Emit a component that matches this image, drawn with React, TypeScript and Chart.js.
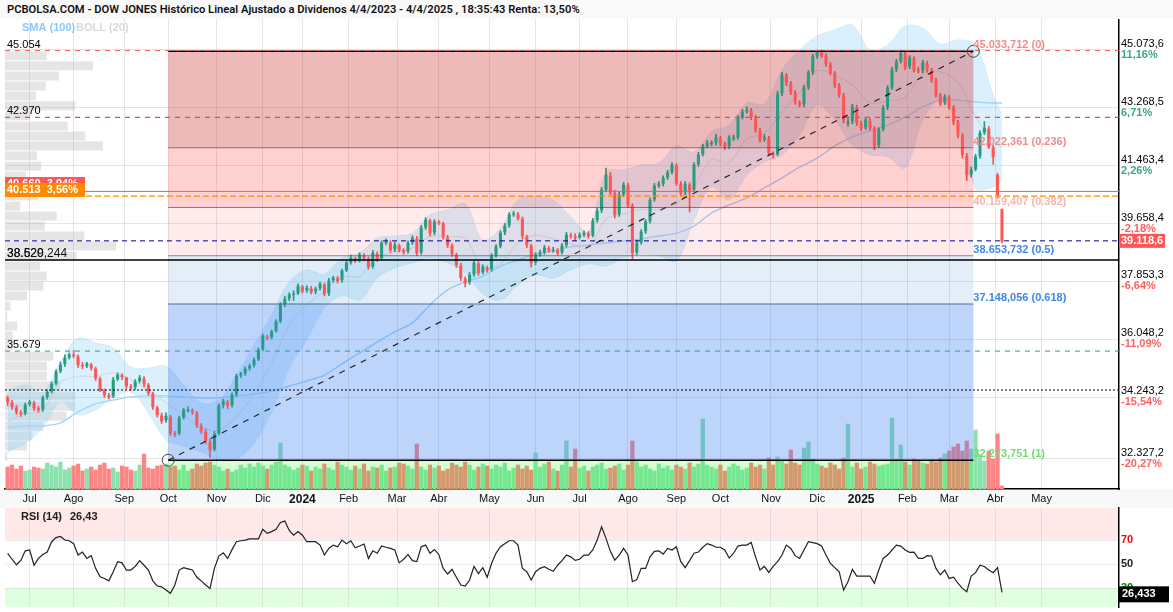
import { useEffect, useRef } from 'react'
import Chart from 'chart.js/auto'

const monthDays = [0, 20, 43, 63, 85, 106, 124, 145, 167, 186, 209, 230, 250, 272, 294, 314, 337, 358, 378, 399, 418, 439, 460]
const monthLabels = ['Jul', 'Ago', 'Sep', 'Oct', 'Nov', 'Dic', '2024', 'Feb', 'Mar', 'Abr', 'May', 'Jun', 'Jul', 'Ago', 'Sep', 'Oct', 'Nov', 'Dic', '2025', 'Feb', 'Mar', 'Abr', 'May']

const closes = [
  34090, 33940, 33780, 33720, 34000, 34090, 33900, 33840, 34220, 34400,
  34650, 35030, 35250, 35460, 35560, 35530, 35250, 35210, 35280, 35150,
  34840, 34470, 34310, 34250, 34780, 34930, 34870, 34590, 34530, 34720,
  34840, 34650, 34370, 33940, 33690, 33500, 33650, 33120, 33090, 33590,
  33840, 33840, 33780, 33370, 33190, 32870, 32590, 33090, 33970, 34120,
  33970, 34310, 34900, 34960, 35120, 35210, 35400, 35710, 36150, 36090,
  36280, 36590, 37120, 37300, 37430, 37460, 37710, 37550, 37650, 37520,
  37620, 37770, 37460, 37870, 37960, 37870, 38180, 38430, 38580, 38520,
  38680, 38580, 38300, 38740, 38550, 39050, 39080, 38830, 38990, 38830,
  38770, 39050, 39210, 38740, 39520, 39770, 39360, 39710, 39680, 39240,
  38990, 38710, 38370, 37960, 37800, 38050, 38430, 38120, 38300, 38210,
  38650, 38930, 39360, 39580, 39930, 39960, 39830, 39270, 38990, 38430,
  38680, 38740, 38900, 38830, 38830, 38740, 38960, 39300, 39270, 39210,
  39300, 39360, 39270, 39740, 40050, 40700, 41170, 40640, 39930, 40550,
  40860, 40240, 38740, 39050, 39400, 39710, 40390, 40830, 40890, 41080,
  41240, 41490, 40920, 40610, 40890, 40700, 41490, 41800, 42050, 42170,
  42170, 42330, 42170, 42050, 42330, 42330, 42950, 43140, 43200, 42980,
  42580, 42270, 42330, 41860, 41800, 43700, 44290, 44040, 43760, 43450,
  43360, 43890, 44360, 44860, 45010, 44920, 44640, 44360, 43980, 43670,
  42890, 42830, 43300, 42800, 42640, 42890, 42640, 42080, 42580, 43260,
  43890, 44450, 44700, 44980, 44540, 44820, 44450, 44420, 44670, 44450,
  44140, 43670, 43420, 43610, 43300, 42830, 42420, 41800, 41170, 41330,
  41740, 42480, 42640, 42050, 41740, 40550, 39110,
]

const opens = [
  34200, 34060, 33910, 33750, 33750, 34030, 34060, 33880, 33870, 34250,
  34430, 34680, 35060, 35280, 35490, 35560, 35500, 35240, 35230, 35250,
  35120, 34810, 34440, 34290, 34280, 34810, 34910, 34840, 34570, 34560,
  34750, 34810, 34620, 34340, 33910, 33660, 33530, 33620, 33110, 33120,
  33620, 33820, 33820, 33750, 33340, 33160, 32840, 32620, 33120, 34000,
  34090, 34000, 34340, 34930, 34990, 35150, 35240, 35430, 35740, 36120,
  36120, 36310, 36620, 37150, 37330, 37440, 37490, 37680, 37580, 37620,
  37550, 37650, 37740, 37490, 37900, 37940, 37900, 38210, 38460, 38560,
  38550, 38650, 38550, 38330, 38710, 38580, 39060, 39050, 38860, 38960,
  38810, 38800, 39080, 39180, 38770, 39550, 39740, 39390, 39700, 39650,
  39210, 38960, 38680, 38340, 37930, 37830, 38080, 38400, 38150, 38270,
  38240, 38680, 38960, 39390, 39610, 39940, 39930, 39800, 39240, 38960,
  38460, 38700, 38770, 38880, 38820, 38810, 38770, 38990, 39290, 39250,
  39240, 39320, 39340, 39300, 39770, 40080, 40730, 41140, 40610, 39960,
  40580, 40830, 40210, 38770, 39080, 39430, 39740, 40420, 40850, 40910,
  41110, 41270, 41460, 40890, 40640, 40860, 40730, 41520, 41830, 42080,
  42150, 42190, 42300, 42150, 42080, 42310, 42360, 42980, 43160, 43170,
  42950, 42550, 42290, 42300, 41840, 41830, 43730, 44260, 44010, 43730,
  43420, 43390, 43920, 44390, 44890, 44990, 44890, 44610, 44330, 43950,
  43640, 42790, 42860, 43270, 42770, 42670, 42860, 42610, 42110, 42610,
  43290, 43920, 44480, 44730, 44950, 44570, 44790, 44440, 44450, 44640,
  44420, 44110, 43640, 43450, 43580, 43270, 42800, 42390, 41770, 41200,
  41360, 41770, 42510, 42610, 42020, 41170, 40100,
]

const highs = [
  34280, 34140, 33990, 33830, 34060, 34140, 34120, 33960, 34280, 34470,
  34720, 35100, 35340, 35560, 35620, 35700, 35560, 35330, 35330, 35300,
  35180, 34870, 34500, 34360, 34860, 35000, 34980, 34870, 34640, 34790,
  34920, 34880, 34670, 34400, 33960, 33750, 33750, 33680, 33180, 33650,
  33900, 33950, 33880, 33800, 33420, 33250, 32950, 33180, 34040, 34180,
  34150, 34380, 34960, 35020, 35190, 35280, 35470, 35780, 36210, 36180,
  36340, 36660, 37190, 37390, 37500, 37560, 37780, 37730, 37720, 37700,
  37680, 37830, 37800, 37950, 38020, 38010, 38240, 38500, 38680, 38610,
  38750, 38720, 38620, 38820, 38780, 39120, 39180, 39120, 39080, 39020,
  38880, 39120, 39280, 39260, 39600, 39840, 39800, 39780, 39760, 39700,
  39290, 39030, 38740, 38420, 38000, 38130, 38500, 38470, 38370, 38340,
  38720, 39000, 39430, 39660, 40000, 40040, 40010, 39860, 39300, 39020,
  38750, 38830, 38980, 38950, 38920, 38880, 39040, 39380, 39360, 39340,
  39370, 39430, 39410, 39820, 40130, 40780, 41390, 41250, 40690, 40640,
  40940, 40920, 40280, 39140, 39470, 39780, 40460, 40910, 40970, 41150,
  41320, 41560, 41530, 40970, 40970, 40930, 41560, 41880, 42130, 42250,
  42240, 42440, 42380, 42200, 42400, 42420, 43030, 43220, 43300, 43250,
  43030, 42630, 42440, 42380, 41900, 43790, 44380, 44340, 44090, 43810,
  43490, 43970, 44430, 44940, 45070, 45070, 44960, 44680, 44400, 44030,
  43720, 42930, 43380, 43350, 42850, 42970, 42930, 42680, 42650, 43340,
  43960, 44530, 44780, 45060, 45030, 44900, 44860, 44540, 44750, 44720,
  44500, 44190, 43720, 43680, 43650, 43340, 42880, 42460, 41850, 41420,
  41820, 42560, 42840, 42690, 42100, 41230, 40120,
]

const lows = [
  33970, 33860, 33700, 33640, 33690, 33960, 33820, 33770, 33800, 34180,
  34370, 34620, 35000, 35200, 35430, 35470, 35170, 35130, 35160, 35080,
  34760, 34410, 34230, 34190, 34220, 34750, 34790, 34510, 34460, 34480,
  34680, 34560, 34300, 33860, 33620, 33420, 33450, 33040, 33010, 33060,
  33560, 33770, 33700, 33290, 33110, 32790, 32350, 32560, 33060, 33900,
  33880, 33930, 34260, 34850, 34920, 35080, 35180, 35380, 35690, 36030,
  36060, 36270, 36560, 37060, 37250, 37260, 37440, 37490, 37510, 37460,
  37460, 37580, 37400, 37410, 37830, 37800, 37820, 38160, 38390, 38440,
  38460, 38500, 38230, 38260, 38470, 38530, 38990, 38760, 38780, 38770,
  38700, 38730, 39000, 38660, 38700, 39480, 39270, 39310, 39620, 39170,
  38910, 38630, 38290, 37880, 37680, 37760, 38010, 38040, 38090, 38140,
  38170, 38600, 38900, 39310, 39540, 39880, 39760, 39180, 38900, 38300,
  38370, 38630, 38700, 38760, 38760, 38670, 38700, 38920, 39200, 39120,
  39180, 39250, 39200, 39240, 39700, 40000, 40650, 40560, 39830, 39880,
  40510, 40160, 38560, 38690, 39010, 39350, 39670, 40350, 40780, 40830,
  41030, 41210, 40850, 40530, 40560, 40020, 40660, 41440, 41770, 42020,
  42080, 42110, 42090, 41960, 41990, 42250, 42290, 42920, 43100, 42900,
  42500, 42200, 42220, 41780, 41700, 41780, 43650, 43960, 43680, 43380,
  43290, 43300, 43840, 44310, 44810, 44840, 44560, 44290, 43900, 43600,
  42800, 42700, 42770, 42720, 42560, 42590, 42570, 41960, 42030, 42540,
  43210, 43840, 44400, 44660, 44460, 44490, 44380, 44350, 44360, 44380,
  44060, 43600, 43340, 43370, 43220, 42740, 42330, 41700, 41000, 41110,
  41300, 41690, 42430, 41990, 41500, 40440, 39050,
]

// volume in units of about 14M shares
const volumes = [
  22, 24, 20, 23, 18, 19, 22, 21, 20, 26, 24, 22, 27, 19, 21, 23, 25, 18, 20, 22,
  19, 24, 26, 20, 21, 17, 23, 22, 19, 18, 24, 35, 21, 20, 23, 24, 25, 22, 23, 19,
  24, 18, 20, 25, 23, 26, 27, 24, 22, 18, 20, 17, 19, 24, 21, 25, 22, 26, 23, 20,
  24, 27, 46, 24, 22, 19, 21, 24, 23, 18, 22, 20, 25, 21, 19, 27, 24, 22, 19, 23,
  20, 25, 18, 22, 21, 24, 18, 21, 22, 26, 25, 23, 20, 45, 22, 19, 24, 21, 23, 18,
  20, 26, 24, 22, 27, 24, 19, 22, 25, 23, 20, 24, 22, 26, 18, 21, 24, 20, 23, 19,
  36, 22, 25, 27, 20, 18, 24, 48, 22, 40, 21, 23, 18, 22, 24, 26, 20, 21, 23, 25,
  19, 24, 48, 27, 22, 24, 20, 18, 25, 21, 23, 19, 24, 22, 20, 26, 22, 25, 70, 24,
  22, 20, 24, 18, 22, 25, 23, 19, 21, 26, 22, 24, 20, 31, 24, 32, 28, 25, 39, 26,
  24, 41, 47, 30, 25, 23, 21, 26, 24, 20, 31, 65, 22, 26, 20, 22, 27, 25, 23, 24,
  25, 71, 30, 44, 27, 24, 30, 28, 26, 25, 29, 27, 31, 35, 38, 42, 45, 38, 48, 40,
  59, 34, 28, 38, 30, 55, 3,
]

const rsi = [
  58.9, 54, 49.4, 53, 61, 61.7, 49, 54.7, 58, 60, 68.6, 72, 73, 70, 69.4, 67, 57.5, 60, 54.7, 57,
  46.4, 39.4, 38, 36, 43.6, 52, 51, 45, 45, 48, 52.8, 49, 45, 36, 31.7, 31, 28.3, 25.6, 32.5, 45,
  47, 46, 45, 39, 36, 32.5, 29.7, 46.4, 56.7, 59.4, 54.7, 62, 68.6, 69.4, 70, 71, 71, 71, 79, 75.6,
  77, 79, 84.7, 85.8, 78, 74, 77, 74, 68.6, 68.6, 68.6, 65.8, 57.5, 63, 65.8, 64.4, 70, 67, 69.4, 63.6,
  65, 66.7, 54.7, 61, 59, 65, 64, 63, 61.7, 51, 54, 58, 52.8, 52, 64.4, 65.8, 59, 62, 58, 46.4,
  41.7, 45.6, 39, 32.5, 31.7, 36.7, 48, 42, 47, 39, 50.6, 59, 64.4, 67, 69.4, 69.4, 65.8, 46.4, 43.6, 36.7,
  43.6, 46.4, 47.8, 45.6, 44, 49, 52.8, 57.5, 56, 53, 54, 57.5, 57.5, 61.7, 70, 81, 71.4, 60.6, 53.3, 57.5,
  63, 57.5, 35.3, 37, 46.4, 46.4, 56, 60.6, 61, 58.3, 63, 61.7, 64.4, 52, 47, 52.8, 59, 60, 64, 67,
  65.8, 64, 64, 61.7, 55, 59, 65, 65.8, 65.8, 68, 56, 45, 48, 43, 48, 52, 57.5, 65.8, 63, 57,
  54.7, 61.7, 68.6, 67.8, 67, 65, 57.5, 50.6, 47, 43.6, 28.3, 35.3, 45.6, 40, 40, 40, 40, 34, 45, 54.7,
  57.5, 61.7, 65.8, 65, 61.7, 59.7, 60, 54.7, 54.7, 57, 56.7, 46.4, 41, 45, 38, 39, 34, 29.7, 27, 40,
  42.8, 49, 48, 45, 42.8, 47, 26.43,
]

const bollUpper = [
  34430, 34620, 34400, 35340, 36090, 35930, 35780, 35180, 35150, 35210,
  34620, 34060, 34150, 34930, 35870, 36810, 37840, 38210, 38080, 38580,
  38740, 39210, 39270, 39360, 39930, 40080, 40270, 39150, 39520, 40390,
  40520, 40390, 39860, 39400, 41270, 41330, 41490, 41550, 42080, 41890,
  42520, 42730, 43420, 43390, 44450, 45070, 45510, 45700, 45850, 45070,
  45230, 45820, 45760, 45260, 45390, 45230, 43670, 43050,
]
const bollLower = [
  32530, 32810, 33280, 34090, 33690, 33840, 34220, 34400, 33750, 32910,
  32720, 32530, 32280, 32310, 32810, 33780, 35150, 36030, 37020, 37400,
  37270, 37960, 38270, 38430, 38580, 38430, 38120, 37460, 37270, 37740,
  38050, 37960, 38210, 38400, 38330, 38580, 38710, 38650, 38490, 39770,
  40800, 40390, 41170, 41580, 41800, 42420, 43360, 42890, 42110, 41800,
  41740, 41390, 42890, 43510, 42730, 40770, 40800, 41020,
]
const bollMiddle = [
  33480, 33720, 33840, 34710, 34890, 34890, 35000, 34790, 34450, 34060,
  33670, 33300, 33220, 33620, 34340, 35290, 36490, 37120, 37550, 37990,
  38010, 38580, 38770, 38900, 39250, 39250, 39190, 38300, 38400, 39070,
  39290, 39180, 39040, 38900, 39800, 39960, 40100, 40100, 40280, 40830,
  41660, 41560, 42300, 42480, 43120, 43750, 44430, 44290, 43980, 43430,
  43480, 43600, 44320, 44390, 44060, 43000, 42230, 42030,
]
const sma100 = [
  33310, 33340, 33340, 33440, 33780, 34030, 34150, 34250, 34280, 34280,
  34250, 34220, 34220, 34280, 34340, 34430, 34590, 34750, 34930, 35280,
  35620, 35960, 36280, 36560, 37120, 37590, 37840, 38020, 38330, 38520,
  38710, 38800, 38930, 38990, 39050, 39110, 39180, 39270, 39360, 39580,
  39990, 40240, 40460, 40770, 41080, 41420, 41700, 42080, 42360, 42550,
  42730, 42980, 43300, 43510, 43510, 43450, 43420, 43420,
]
const bandDays = [
  -10, -2, 6, 14, 22, 30, 38, 46, 54, 62, 70, 78, 86, 94, 102, 110, 118, 126, 134, 142,
  150, 158, 166, 174, 182, 190, 198, 206, 214, 222, 230, 238, 246, 254, 262, 270, 278, 286, 294, 302,
  310, 318, 326, 334, 342, 350, 358, 366, 374, 382, 390, 398, 406, 414, 422, 430, 438, 442,
]

const priceTicks = [45073.6, 43268.5, 41463.4, 39658.4, 37853.3, 36048.2, 34243.2, 32327.2]
const priceTickLabels = ['45.073,6', '43.268,5', '41.463,4', '39.658,4', '37.853,3', '36.048,2', '34.243,2', '32.327,2']
const priceTickPercents = ['11,16%', '6,71%', '2,26%', '-2,18%', '-6,64%', '-11,09%', '-15,54%', '-20,27%']

const fibLevels = [45033.712, 42022.361, 40159.407, 38653.732, 37148.056, 32273.751]
const fibLabels = ['45.033,712 (0)', '42.022,361 (0.236)', '40.159,407 (0.382)', '38.653,732 (0.5)', '37.148,056 (0.618)', '32.273,751 (1)']
const fibLabelColors = ['#f08c8c', '#f08c8c', '#f7b4b4', '#3f87e6', '#3f87e6', '#6fdc6f']
const fibZoneColors = ['rgba(200,30,30,0.31)', 'rgba(255,0,0,0.18)', 'rgba(255,0,0,0.08)', 'rgba(50,120,200,0.13)', 'rgba(66,133,244,0.35)']
const fibStart = 63
const fibEnd = 429

const profilePrices = [
  44890, 44580, 44260, 43950, 43640, 43330, 43020, 42700, 42390, 42080, 41770, 41450, 41140, 40830,
  40520, 40200, 39890, 39580, 39270, 38960, 38640, 38330, 38020, 37710, 37400, 37080, 36770, 36460,
  36150, 35840, 35520, 35210, 34900, 34590, 34280, 33960, 33650, 33340, 33030, 32720, 32400,
]
const profileSizes = [
  19, 40, 24.5, 18.5, 14, 32, 11.5, 28.5, 36.5, 44.5, 14.5, 16.5, 9.5, 23,
  15, 7, 23.5, 18, 36, 50.5, 32.5, 16, 19, 17.5, 10, 2.5, 1, 5.5,
  3.5, 3.5, 22, 19, 19, 25, 32, 32, 28, 17.5, 12.5, 10, 1,
]

const trendDays = [fibStart, fibEnd]
const trendPrices = [32273.751, 45033.712]

const leftLabels = ['45.054', '42.970', '35.679']
const leftLabelPrices = [45054, 42970, 35679]

const xMin = -11.2
const xMax = 495.2

const red = '#ff5555'
const green = '#279d80'

function xyPoints(days: number[], values: number[]) {
  return days.map((d, i) => ({ x: d, y: values[i] }))
}

function levelLine(price: number, color: string, dash: number[], width = 1) {
  return {
    type: 'line' as const,
    data: [{ x: xMin, y: price }, { x: xMax, y: price }],
    borderColor: color,
    borderWidth: width,
    borderDash: dash,
    pointRadius: 0,
    order: 1,
  }
}

function fibLine(price: number, color: string, width: number) {
  return {
    type: 'line' as const,
    data: [{ x: fibStart, y: price }, { x: fibEnd, y: price }],
    borderColor: color,
    borderWidth: width,
    pointRadius: 0,
    order: 2,
  }
}

const sansFont = '"Liberation Sans", Arial, sans-serif'

const pricePlugin = {
  id: 'pricePanel',
  beforeDraw(chart: any) {
    const { ctx, width, chartArea } = chart
    ctx.save()
    ctx.fillStyle = '#f8f8f8'
    ctx.fillRect(0, chartArea.bottom, width, chart.height - chartArea.bottom)
    ctx.restore()
  },
  beforeDatasetsDraw(chart: any) {
    const { ctx, scales } = chart
    ctx.save()
    ctx.fillStyle = 'rgba(175,175,175,0.33)'
    const left = scales.x.getPixelForValue(xMin)
    profilePrices.forEach((p, i) => {
      const yA = scales.y.getPixelForValue(p + 140)
      const yB = scales.y.getPixelForValue(p - 140)
      const right = scales.x.getPixelForValue(xMin + profileSizes[i])
      ctx.fillRect(left, yA, right - left, yB - yA)
    })
    ctx.restore()
  },
  afterDatasetDraw(chart: any, args: any) {
    // fibonacci zones go over the candles and volume but under the lines
    if (args.index !== 5) return
    const { ctx, scales, chartArea } = chart
    const left = scales.x.getPixelForValue(fibStart)
    const right = scales.x.getPixelForValue(fibEnd)
    ctx.save()
    fibZoneColors.forEach((c, i) => {
      const a = scales.y.getPixelForValue(fibLevels[i])
      const b = scales.y.getPixelForValue(fibLevels[i + 1])
      ctx.fillStyle = c
      ctx.fillRect(left, a, right - left, b - a)
    })
    const last = scales.y.getPixelForValue(fibLevels[5])
    ctx.fillStyle = 'rgba(0,255,0,0.17)'
    ctx.fillRect(left, last, right - left, chartArea.bottom - last)
    ctx.restore()
  },
  afterDraw(chart: any) {
    const { ctx, scales, chartArea } = chart
    const yAt = (p: number) => scales.y.getPixelForValue(p)
    ctx.save()
    ctx.textBaseline = 'middle'
    ctx.textAlign = 'left'

    ctx.font = '11px ' + sansFont
    leftLabels.forEach((t, i) => {
      ctx.fillStyle = '#000'
      ctx.fillText(t, 7, yAt(leftLabelPrices[i]) - 6)
    })
    ctx.fillStyle = '#111'
    ctx.font = '12px ' + sansFont
    ctx.fillText('38.520', 7, yAt(38520) - 6)
    ctx.fillText('38.629,244', 7, yAt(38520) - 6)

    ctx.fillStyle = '#ff5555'
    ctx.fillRect(5, 177, 80, 13)
    ctx.font = 'bold 11px ' + sansFont
    ctx.fillStyle = '#fff'
    ctx.fillText('40.660  3,94%', 7, 184)
    ctx.fillStyle = '#ff8a00'
    ctx.fillRect(5, 183, 80, 14)
    ctx.fillStyle = '#fff'
    ctx.fillText('40.513  3,56%', 7, 190)

    ctx.font = 'bold 11px ' + sansFont
    ctx.fillStyle = '#8cc8fa'
    ctx.fillText('SMA (100)', 22, 28)
    ctx.fillStyle = '#d9d9d9'
    ctx.fillText('BOLL (20)', 76, 28)

    const fibX = scales.x.getPixelForValue(fibEnd)
    fibLabels.forEach((t, i) => {
      ctx.fillStyle = fibLabelColors[i]
      ctx.fillText(t, fibX, yAt(fibLevels[i]) - 6)
    })

    priceTicks.forEach((p, i) => {
      const y = yAt(p)
      ctx.font = '11px ' + sansFont
      ctx.fillStyle = '#000'
      ctx.fillText(priceTickLabels[i], chartArea.right + 2, y - 6)
      ctx.font = 'bold 11px ' + sansFont
      ctx.fillStyle = priceTickPercents[i].startsWith('-') ? '#ff6060' : '#3aa884'
      ctx.fillText(priceTickPercents[i], chartArea.right + 2, y + 5)
    })

    ctx.fillStyle = '#ff5555'
    ctx.fillRect(chartArea.right, yAt(39118.6) - 7, 46, 14)
    ctx.fillStyle = '#fff'
    ctx.font = 'bold 11px ' + sansFont
    ctx.fillText('39.118,6', chartArea.right + 2, yAt(39118.6))
    ctx.restore()
  },
}

const rsiPlugin = {
  id: 'rsiPanel',
  beforeDraw(chart: any) {
    const { ctx, scales, chartArea } = chart
    const y70 = scales.y.getPixelForValue(70)
    const y30 = scales.y.getPixelForValue(30)
    ctx.save()
    ctx.fillStyle = '#fee8e8'
    ctx.fillRect(chartArea.left, chartArea.top, chartArea.right - chartArea.left, y70 - chartArea.top)
    ctx.fillStyle = '#e0ffe0'
    ctx.fillRect(chartArea.left, y30, chartArea.right - chartArea.left, chartArea.bottom - y30)
    ctx.restore()
  },
  afterDraw(chart: any) {
    const { ctx, scales, chartArea } = chart
    const right = chartArea.right
    ctx.save()
    ctx.textBaseline = 'middle'
    ctx.font = 'bold 11px ' + sansFont
    ctx.fillStyle = '#222'
    ctx.fillText('RSI (14)', 21, chartArea.top + 9)
    ctx.fillText('26,43', 70, chartArea.top + 9)
    ctx.fillStyle = '#ff0000'
    ctx.fillText('70', right + 2, scales.y.getPixelForValue(70))
    ctx.fillStyle = '#222'
    ctx.fillText('50', right + 2, scales.y.getPixelForValue(50))
    ctx.fillStyle = '#008000'
    ctx.fillText('30', right + 2, scales.y.getPixelForValue(30))
    ctx.fillStyle = '#000'
    ctx.fillRect(right, scales.y.getPixelForValue(26.43) - 6, 50, 16)
    ctx.fillStyle = '#fff'
    ctx.fillText('26,433', right + 3, scales.y.getPixelForValue(26.43) + 2)
    ctx.restore()
  },
}

function setMonthTicks(scale: any) {
  scale.ticks = monthDays.map(v => ({ value: v }))
}

export default function App() {
  const priceRef = useRef<HTMLCanvasElement | null>(null)
  const rsiRef = useRef<HTMLCanvasElement | null>(null)

  useEffect(() => {
    document.body.style.margin = '0'
    if (!priceRef.current || !rsiRef.current) return

    const candleDays = closes.map((_, i) => -10 + 2 * i)
    const candleColors = closes.map((c, i) => (c >= opens[i] ? green : red))
    const volumeColors = closes.map((c, i) => (c >= opens[i] ? '#8ce2ae' : '#ff8585'))

    const priceChart = new Chart(priceRef.current, {
      type: 'bar',
      data: {
        datasets: [
          {
            data: candleDays.map((d, i) => ({ x: d, y: volumes[i] })),
            yAxisID: 'yVol',
            backgroundColor: volumeColors,
            barThickness: 3.6,
            grouped: false,
            order: 10,
          },
          {
            type: 'line',
            data: xyPoints(bandDays, bollUpper),
            borderColor: 'rgba(135,206,250,0.25)',
            borderWidth: 1,
            backgroundColor: 'rgba(135,206,250,0.3)',
            pointRadius: 0,
            tension: 0.35,
            fill: '+1',
            order: 9,
          },
          {
            type: 'line',
            data: xyPoints(bandDays, bollLower),
            borderColor: 'rgba(135,206,250,0.25)',
            borderWidth: 1,
            pointRadius: 0,
            tension: 0.35,
            fill: false,
            order: 9,
          },
          {
            type: 'line',
            data: xyPoints(bandDays, bollMiddle),
            borderColor: 'rgba(190,190,190,0.4)',
            borderWidth: 1.2,
            pointRadius: 0,
            tension: 0.35,
            fill: false,
            order: 8,
          },
          {
            type: 'line',
            data: xyPoints(bandDays, sma100),
            borderColor: '#a4d4fa',
            borderWidth: 1.4,
            pointRadius: 0,
            tension: 0.3,
            fill: false,
            order: 7,
          },
          {
            data: candleDays.map((d, i) => ({ x: d, y: [lows[i], highs[i]] })),
            backgroundColor: candleColors,
            barThickness: 1,
            grouped: false,
            order: 6,
          },
          {
            data: candleDays.map((d, i) => ({ x: d, y: [opens[i], closes[i]] })),
            backgroundColor: candleColors,
            barThickness: 2.4,
            grouped: false,
            order: 5,
          },
          fibLine(fibLevels[0], '#000', 1.5),
          fibLine(fibLevels[1], 'rgba(90,60,60,0.65)', 1),
          fibLine(fibLevels[2], 'rgba(90,60,60,0.65)', 1),
          fibLine(fibLevels[3], 'rgba(90,70,70,0.65)', 1),
          fibLine(fibLevels[4], 'rgba(60,70,90,0.75)', 1),
          fibLine(fibLevels[5], '#000', 1.5),
          levelLine(45054, '#ff5555', [5, 5]),
          levelLine(42970, '#f04848', [5, 5], 1.1),
          levelLine(40660, '#f25a55', []),
          levelLine(40513, '#ff8a00', [6, 3], 1.2),
          levelLine(39118, '#00009c', [5, 4]),
          levelLine(38520, '#000', [], 1.4),
          levelLine(35679, '#2a9d80', [5, 5]),
          levelLine(34465, '#000', [2, 2]),
          {
            type: 'line',
            data: xyPoints(trendDays, trendPrices),
            borderColor: 'rgba(10,10,10,0.85)',
            borderWidth: 1.2,
            borderDash: [6, 6],
            pointRadius: 6,
            pointBorderColor: '#444',
            pointBorderWidth: 1,
            pointBackgroundColor: 'rgba(0,0,0,0)',
            order: 0,
          },
        ] as any,
      },
      options: {
        animation: false,
        responsive: false,
        layout: { autoPadding: false, padding: { left: 5, right: 54, top: 19, bottom: 0 } },
        plugins: { legend: { display: false }, tooltip: { enabled: false } },
        scales: {
          x: {
            type: 'linear',
            min: xMin,
            max: xMax,
            offset: false,
            afterBuildTicks: setMonthTicks,
            afterFit: (scale: any) => {
              scale.height = 19
              scale.paddingLeft = 0
              scale.paddingRight = 0
            },
            grid: { color: 'rgba(150,150,150,0.25)', drawTicks: false, offset: false },
            border: { color: '#000', width: 1.5 },
            ticks: {
              autoSkip: false,
              maxRotation: 0,
              padding: 3,
              color: '#111',
              callback: (value: any) => monthLabels[monthDays.indexOf(Number(value))],
              font: (ctx: any) => {
                const label = monthLabels[monthDays.indexOf(ctx.tick?.value)]
                return label === '2024' || label === '2025'
                  ? { family: sansFont, size: 12, weight: 'bold' }
                  : { family: sansFont, size: 11 }
              },
            },
          },
          y: {
            position: 'right',
            min: 31376,
            max: 46040,
            afterBuildTicks: (scale: any) => { scale.ticks = priceTicks.map(v => ({ value: v })) },
            afterFit: (scale: any) => { scale.width = 0 },
            grid: { color: 'rgba(150,150,150,0.25)', drawTicks: false },
            border: { color: '#000', width: 1.5 },
            ticks: { display: false },
          },
          yVol: {
            display: false,
            min: 0,
            max: 470,
          },
        },
      } as any,
      plugins: [pricePlugin],
    })

    const rsiChart = new Chart(rsiRef.current, {
      type: 'line',
      data: {
        datasets: [{
          data: xyPoints(candleDays, rsi),
          borderColor: '#222',
          borderWidth: 1.2,
          pointRadius: 0,
          tension: 0,
        }],
      },
      options: {
        animation: false,
        responsive: false,
        layout: { autoPadding: false, padding: { left: 5, right: 54, top: 4, bottom: 5 } },
        plugins: { legend: { display: false }, tooltip: { enabled: false } },
        scales: {
          x: {
            type: 'linear',
            min: xMin,
            max: xMax,
            afterBuildTicks: setMonthTicks,
            afterFit: (scale: any) => { scale.height = 0 },
            grid: { color: 'rgba(150,150,150,0.2)', drawTicks: false },
            border: { display: false },
            ticks: { display: false },
          },
          y: {
            position: 'right',
            min: 14.2,
            max: 96.7,
            afterBuildTicks: (scale: any) => { scale.ticks = [30, 50, 70].map(v => ({ value: v })) },
            afterFit: (scale: any) => { scale.width = 0 },
            grid: { color: 'rgba(150,150,150,0.2)', drawTicks: false },
            border: { color: '#000', width: 1.5 },
            ticks: { display: false },
          },
        },
      } as any,
      plugins: [rsiPlugin],
    })

    return () => {
      priceChart.destroy()
      rsiChart.destroy()
    }
  }, [])

  return (
    <div style={{ position: 'relative', width: 1173, height: 612, overflow: 'hidden', background: '#fff' }}>
      <div style={{
        position: 'absolute', left: 0, top: 0, width: 1173, height: 19, zIndex: 2, background: '#f9f9f9',
        fontFamily: 'Roboto, sans-serif', fontWeight: 600, fontSize: 11.2, lineHeight: '19px',
        paddingLeft: 7, boxSizing: 'border-box', color: '#111', whiteSpace: 'nowrap',
      }}>
        PCBOLSA.COM - DOW JONES Histórico Lineal Ajustado a Dividenos 4/4/2023 - 4/4/2025 , 18:35:43 Renta: 13,50%
      </div>
      <canvas ref={priceRef} width={1173} height={508} style={{ position: 'absolute', left: 0, top: 0, display: 'block' }} />
      <canvas ref={rsiRef} width={1173} height={108} style={{ position: 'absolute', left: 0, top: 504, display: 'block' }} />
    </div>
  )
}
